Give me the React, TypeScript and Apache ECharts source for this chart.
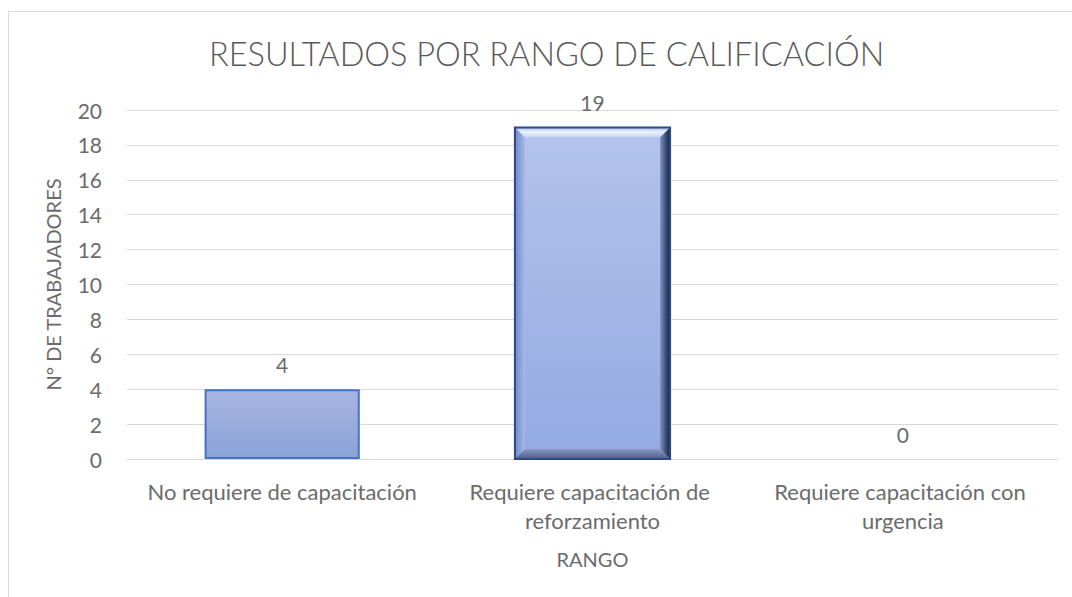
import React, { useEffect, useRef } from "react";
import * as echarts from "echarts";

const TITLE = "RESULTADOS POR RANGO DE CALIFICACIÓN";
const categories = [
  "No requiere de capacitación",
  "Requiere capacitación de reforzamiento",
  "Requiere capacitación con urgencia",
];
const workers = [4, 19, 0];
const yAxisName = "N° DE TRABAJADORES";
const xAxisName = "RANGO";
const yMin = 0;
const yMax = 20;
const yInterval = 2;

// styling
const BEVEL_INDEX = 1;
const FONT = "Lato, sans-serif";
const TEXT = "#595959";
const LABEL = "#6b6b6b";

export default function App() {
  const ref = useRef<HTMLDivElement>(null);
  useEffect(() => {
    if (!ref.current) return;
    const chart = echarts.init(ref.current, undefined, { renderer: "svg" });

    const flat = {
      color: new echarts.graphic.LinearGradient(0, 0, 0, 1, [
        { offset: 0, color: "#a7b5e1" },
        { offset: 1, color: "#8ba3d8" },
      ]),
      borderColor: "#4472c4",
      borderWidth: 2,
    };
    const bevelFace = {
      color: new echarts.graphic.LinearGradient(0, 0, 0, 1, [
        { offset: 0, color: "#b3c3ec" },
        { offset: 1, color: "#93aae2" },
      ]),
      borderWidth: 0,
    };

    const barData = workers.map((v, i) => ({
      value: v,
      itemStyle: i === BEVEL_INDEX ? bevelFace : v === 0 ? { ...flat, borderWidth: 0 } : flat,
    }));

    const bevelData = workers
      .map((v, i) => [i, v])
      .filter((d) => d[0] === BEVEL_INDEX);

    const renderBevel = (params: any, api: any) => {
      const idx = api.value(0);
      const val = api.value(1);
      const top = api.coord([idx, val]);
      const base = api.coord([idx, 0]);
      const band = api.size([1, 0])[0];
      const w = band * 0.5;
      const x0 = top[0] - w / 2;
      const x1 = top[0] + w / 2;
      const y0 = top[1];
      const y1 = base[1];
      const b = 10;
      const G = echarts.graphic.LinearGradient;
      return {
        type: "group",
        silent: true,
        children: [
          {
            type: "polygon",
            shape: { points: [[x0, y0], [x1, y0], [x1 - b, y0 + b], [x0 + b, y0 + b]] },
            style: {
              fill: new G(0, 0, 0, 1, [
                { offset: 0, color: "#a4b8e8" },
                { offset: 0.45, color: "#eef4ff" },
                { offset: 1, color: "#c2d0f2" },
              ]),
            },
          },
          {
            type: "polygon",
            shape: { points: [[x0, y0], [x0 + b, y0 + b], [x0 + b, y1 - b], [x0, y1]] },
            style: {
              fill: new G(0, 0, 1, 0, [
                { offset: 0, color: "#6f88c6" },
                { offset: 1, color: "#a6b9e8" },
              ]),
            },
          },
          {
            type: "polygon",
            shape: { points: [[x1, y0], [x1, y1], [x1 - b, y1 - b], [x1 - b, y0 + b]] },
            style: {
              fill: new G(0, 0, 1, 0, [
                { offset: 0, color: "#7f93c6" },
                { offset: 0.6, color: "#3a4c74" },
                { offset: 1, color: "#16223a" },
              ]),
            },
          },
          {
            type: "polygon",
            shape: { points: [[x0, y1], [x1, y1], [x1 - b, y1 - b], [x0 + b, y1 - b]] },
            style: {
              fill: new G(0, 0, 0, 1, [
                { offset: 0, color: "#8899c8" },
                { offset: 1, color: "#4b5b82" },
              ]),
            },
          },
          {
            type: "rect",
            shape: { x: x0, y: y0, width: x1 - x0, height: y1 - y0 },
            style: { fill: "none", stroke: "#2b4a86", lineWidth: 2 },
          },
        ],
      };
    };

    chart.setOption({
      animation: false,
      backgroundColor: "#ffffff",
      title: {
        text: TITLE,
        left: 204,
        top: 32,
        textStyle: {
          fontFamily: FONT,
          fontSize: 32.5,
          fontWeight: 300,
          color: TEXT,
        },
      },
      graphic: [
        {
          type: "rect",
          shape: { x: 8.5, y: 11.5, width: 1100, height: 620 },
          style: { fill: "none", stroke: "#d9d9d9", lineWidth: 1 },
          silent: true,
          z: -1,
        },
      ],
      grid: { left: 127, right: 14, top: 110, bottom: 138 },
      xAxis: {
        type: "category",
        data: categories,
        name: xAxisName,
        nameLocation: "middle",
        nameGap: 90,
        nameTextStyle: { fontFamily: FONT, fontSize: 20, color: LABEL },
        axisTick: { show: false },
        axisLine: { lineStyle: { color: "#d9d9d9", width: 1 } },
        axisLabel: {
          interval: 0,
          margin: 18,
          fontFamily: FONT,
          fontSize: 22,
          lineHeight: 29,
          color: LABEL,
          width: 300,
          overflow: "break",
        },
      },
      yAxis: {
        type: "value",
        min: yMin,
        max: yMax,
        interval: yInterval,
        name: yAxisName,
        nameLocation: "middle",
        nameRotate: 90,
        nameGap: 64,
        nameTextStyle: { fontFamily: FONT, fontSize: 20, color: LABEL },
        axisLine: { show: false },
        axisTick: { show: false },
        axisLabel: { margin: 25, fontFamily: FONT, fontSize: 21, color: LABEL },
        splitLine: { lineStyle: { color: "#d9d9d9", width: 1 } },
      },
      series: [
        {
          type: "bar",
          data: barData,
          barWidth: "50%",
          label: {
            show: true,
            position: "top",
            distance: 14,
            fontFamily: FONT,
            fontSize: 21,
            color: LABEL,
          },
        },
        {
          type: "custom",
          data: bevelData,
          encode: { x: 0, y: 1 },
          renderItem: renderBevel,
          z: 3,
          silent: true,
        },
      ],
    });
    return () => chart.dispose();
  }, []);
  return (
    <div
      ref={ref}
      style={{ position: "absolute", left: 0, top: 0, width: 1072, height: 597 }}
    />
  );
}
